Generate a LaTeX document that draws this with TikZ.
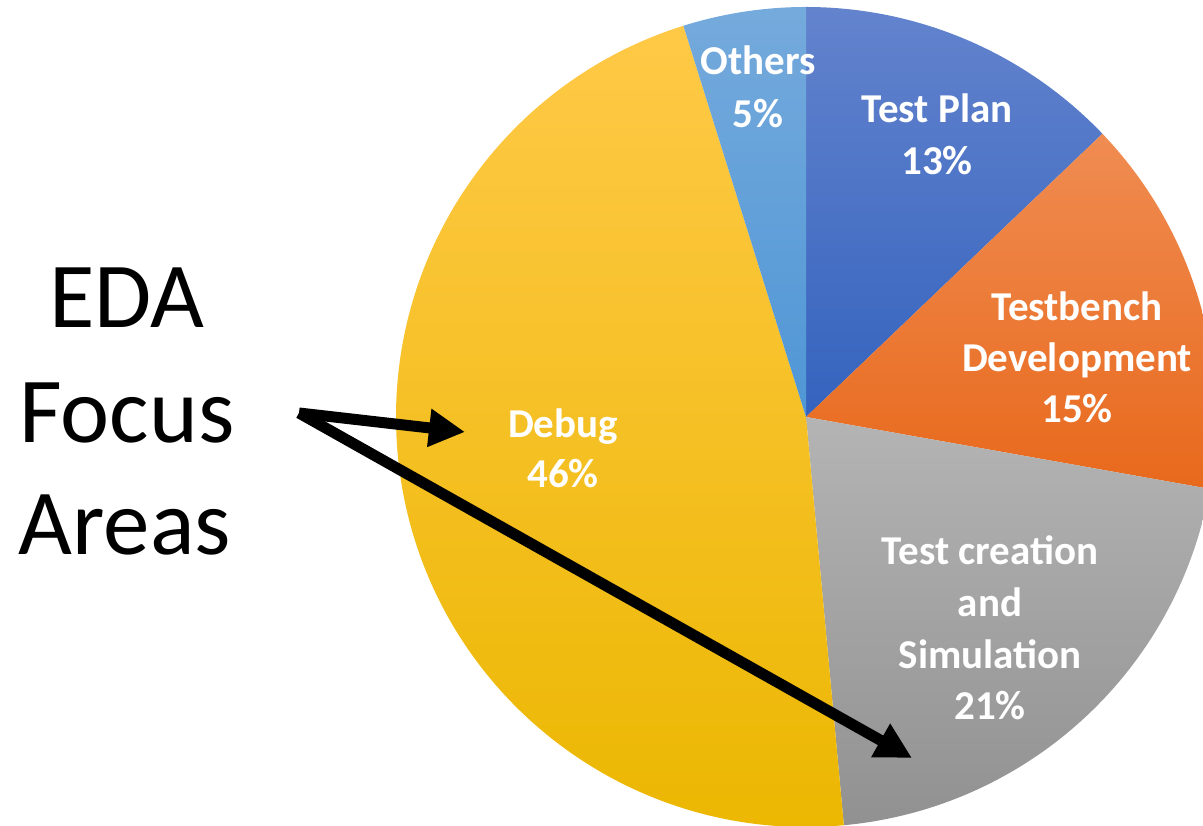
\documentclass[tikz,border=0pt]{standalone}
\usepackage{fontspec}
\setmainfont{Carlito}
\usetikzlibrary{arrows.meta}
\definecolor{planTop}{HTML}{6383CD}
\definecolor{planBot}{HTML}{3463BE}
\definecolor{benchTop}{HTML}{F08C52}
\definecolor{benchBot}{HTML}{E8691C}
\definecolor{simTop}{HTML}{B4B4B4}
\definecolor{simBot}{HTML}{919191}
\definecolor{dbgTop}{HTML}{FFC947}
\definecolor{dbgMid}{HTML}{FFC200}
\definecolor{dbgBot}{HTML}{EBB700}
\definecolor{othTop}{HTML}{75AADC}
\definecolor{othBot}{HTML}{4F96D6}
\tikzset{
  slicelabel/.style={text=white, font=\fontsize{41}{50}\selectfont\bfseries, anchor=base, inner sep=0pt},
  titlelabel/.style={text=black, font=\fontsize{93}{113}\selectfont, anchor=base, inner sep=0pt},
  pointer/.style={line width=11pt, line cap=butt, -{Triangle[length=36pt,width=36pt]}},
}
\begin{document}
\begin{tikzpicture}[x=1pt,y=1pt]
\useasboundingbox (0,0) rectangle (1203,826);
\clip (0,0) rectangle (1203,826);
\coordinate (c) at (806,409);
\def\rr{410}
% pie slices
\shade[top color=planTop, bottom color=planBot]
  (c) -- ++(90:\rr) arc[start angle=90, end angle=43.7, radius=\rr] -- cycle;
\shade[top color=benchTop, bottom color=benchBot]
  (c) -- ++(43.7:\rr) arc[start angle=43.7, end angle=-10.1, radius=\rr] -- cycle;
\shade[top color=simTop, bottom color=simBot]
  (c) -- ++(-10.1:\rr) arc[start angle=-10.1, end angle=-84.7, radius=\rr] -- cycle;
\shade[top color=dbgTop, middle color=dbgMid, bottom color=dbgBot]
  (c) -- ++(-84.7:\rr) arc[start angle=-84.7, end angle=-252.6, radius=\rr] -- cycle;
\shade[top color=othTop, bottom color=othBot]
  (c) -- ++(107.4:\rr) arc[start angle=107.4, end angle=90, radius=\rr] -- cycle;
% slice labels
\node[slicelabel] (oth1) at (758,751) {Others};
\node[slicelabel] (oth2) at (758,698) {5\%};
\node[slicelabel] (plan1) at (937,703) {Test Plan};
\node[slicelabel] (plan2) at (937,651) {13\%};
\node[slicelabel] (bench1) at (1077,505) {Testbench};
\node[slicelabel] (bench2) at (1077,454) {Development};
\node[slicelabel] (bench3) at (1077,403) {15\%};
\node[slicelabel] (sim1) at (990,261) {Test creation};
\node[slicelabel] (sim2) at (990,209) {and};
\node[slicelabel] (sim3) at (990,157) {Simulation};
\node[slicelabel] (sim4) at (990,106) {21\%};
\node[slicelabel] (dbg1) at (563,388) {Debug};
\node[slicelabel] (dbg2) at (563,338) {46\%};
% title
\node[titlelabel] (t1) at (127,498) {EDA};
\node[titlelabel] (t2) at (127,383) {Focus};
\node[titlelabel] (t3) at (125,271) {Areas};
% pointers
\coordinate (src) at (299,413);
\coordinate (tipA) at (465,394);
\coordinate (tipB) at (912,68);
\draw[pointer] (src) -- (tipA);
\draw[pointer] (src) -- (tipB);
\end{tikzpicture}
\end{document}
